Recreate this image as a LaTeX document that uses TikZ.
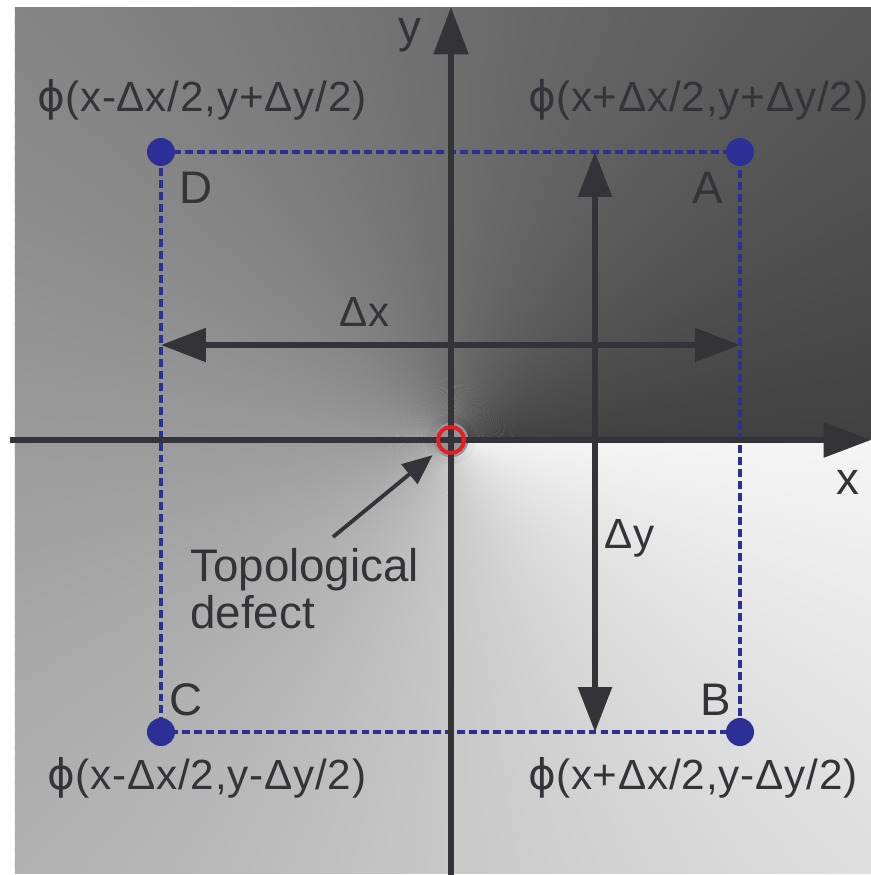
\documentclass[tikz,border=0pt]{standalone}
\usepackage{fontspec}
\setmainfont{Liberation Sans}
\newfontfamily\phifont{DejaVu Sans}
\usetikzlibrary{arrows.meta, positioning}
\definecolor{inkgray}{RGB}{52,52,56}
\definecolor{siteblue}{RGB}{44,48,150}
\definecolor{defectred}{RGB}{232,28,36}
\newcommand{\phase}[1]{{\phifont ϕ}(#1)}

\begin{document}
\begin{tikzpicture}[
  lbl/.style={text=inkgray, font=\fontsize{26}{27}\selectfont, inner sep=0pt},
  phaselbl/.style={text=inkgray, font=\fontsize{24}{26}\selectfont\addfontfeature{LetterSpace=2}, inner sep=0pt},
  axis/.style={draw=inkgray, line width=3.4pt, -{Triangle[length=0.95cm, width=0.68cm]}},
  span/.style={draw=inkgray, line width=3.2pt, {Triangle[length=0.9cm, width=0.66cm]}-{Triangle[length=0.9cm, width=0.66cm]}},
  pointer/.style={draw=inkgray, line width=2.2pt, -{Triangle[length=0.6cm, width=0.5cm]}},
  loop/.style={draw=siteblue, line width=2pt, dash pattern=on 4.5pt off 2.3pt},
  site/.style={circle, fill=siteblue, inner sep=0pt, minimum size=0.56cm}
]
  \useasboundingbox (-9.02,-8.7) rectangle (8.4,8.8);
  \begin{scope}
    \clip (-8.72,-8.66) rectangle (8.4,8.64);
    \fill[black!42] (0,0) circle (0.5);
    \foreach \a in {0,...,359}{
      \pgfmathsetmacro\g{100-(65+0.5*(\a+0.5))/2.55}
      \pgfmathsetmacro\b{min(\a+1.4,360)}
      \fill[black!\g] (\a:0.35) -- (\a:16) -- (\b:16) -- (\b:0.35) -- cycle;
    }
  \end{scope}

  \coordinate (O) at (0,0);
  \coordinate (pD) at (-5.8,5.76);
  \coordinate (pA) at (5.78,5.76);
  \coordinate (pC) at (-5.8,-5.84);
  \coordinate (pB) at (5.78,-5.84);
  \draw[loop] (pD) -- (pA) -- (pB) -- (pC) -- cycle;

  \coordinate (xl) at (-8.82,0);
  \coordinate (xr) at (8.4,0);
  \coordinate (yb) at (0,-8.8);
  \coordinate (yt) at (0,8.66);
  \draw[axis] (xl) -- (xr);
  \draw[axis] (yb) -- (yt);

  \coordinate (dxl) at (-5.8,1.9);
  \coordinate (dxr) at (5.78,1.9);
  \coordinate (dyt) at (2.88,5.76);
  \coordinate (dyb) at (2.88,-5.84);
  \draw[span] (dxl) -- (dxr);
  \draw[span] (dyt) -- (dyb);

  \node[site] (D) at (pD) {};
  \node[site] (A) at (pA) {};
  \node[site] (C) at (pC) {};
  \node[site] (B) at (pB) {};

  \node[draw=defectred, line width=2.2pt, circle, inner sep=0pt, minimum size=0.52cm] (ring) at (O) {};
  \coordinate (dtail) at (-2.36,-1.94);
  \draw[pointer, shorten >=0.18cm] (dtail) -- (ring);

  \node[lbl] (ylab) at (-0.82,8.1) {y};
  \node[lbl] (xlab) at (7.94,-0.84) {x};
  \node[lbl] (Dlab) at (-5.1,5.04) {D};
  \node[lbl] (Alab) at (5.14,5.04) {A};
  \node[lbl] (Clab) at (-5.3,-5.2) {C};
  \node[lbl] (Blab) at (5.3,-5.2) {B};
  \node[phaselbl] (dxlab) at (-1.72,2.56) {Δx};
  \node[phaselbl] (dylab) at (3.58,-1.96) {Δy};

  \node[phaselbl] (phD) at (-4.98,6.8) {\phase{x-Δx/2,y+Δy/2}};
  \node[phaselbl, anchor=west] (phA) at (1.54,6.8) {\phase{x+Δx/2,y+Δy/2}};
  \node[phaselbl] (phC) at (-4.88,-6.76) {\phase{x-Δx/2,y-Δy/2}};
  \node[phaselbl, anchor=west] (phB) at (1.54,-6.76) {\phase{x+Δx/2,y-Δy/2}};

  \node[lbl, align=left, anchor=north west] (defect) at (-5.22,-2.16) {Topological\\defect};
\end{tikzpicture}
\end{document}
